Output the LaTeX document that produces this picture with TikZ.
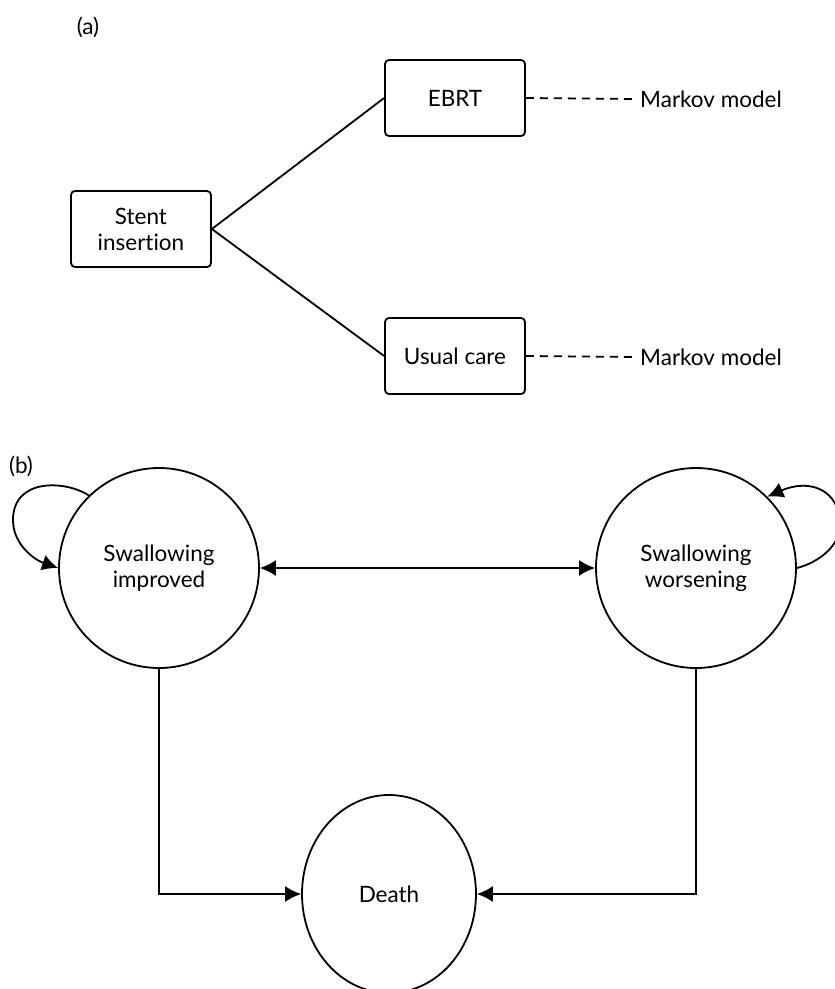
\documentclass[tikz,border=0pt]{standalone}
\usepackage{fontspec}
\setmainfont[Ligatures=NoCommon]{Lato}
\usetikzlibrary{arrows.meta,shapes.geometric}

\begin{document}
\begin{tikzpicture}[x=1pt,y=-1pt,line width=1.8pt]
  \tikzset{every node/.style={font=\fontsize{22.5}{26}\selectfont},
    treebox/.style={draw,rounded corners=4pt,align=center,minimum width=140pt,minimum height=76pt},
    state/.style={draw,circle,align=center,minimum size=200pt,inner sep=0pt},
    arr/.style={-{Latex[length=16pt,width=16pt]}},
    twoarr/.style={{Latex[length=16pt,width=16pt]}-{Latex[length=16pt,width=16pt]}},
    link/.style={dash pattern=on 8pt off 6pt}}
  \useasboundingbox (0,0) rectangle (835,989);
  % (a) decision tree
  \node (lbla) at (88,27) {(a)};
  \node[treebox] (stent) at (141,229) {Stent\\insertion};
  \node[treebox] (ebrt) at (455,98) {EBRT};
  \node[treebox] (usual) at (455,356) {Usual care};
  \node[anchor=west] (mma) at (636,99) {Markov model};
  \node[anchor=west] (mmb) at (636,357) {Markov model};
  \draw (stent.east) -- (ebrt.west);
  \draw (stent.east) -- (usual.west);
  \draw[link] (ebrt.east) -- (mma.west);
  \draw[link] (usual.east) -- (mmb.west);
  % (b) Markov model
  \node (lblb) at (21,466) {(b)};
  \node[state] (impr) at (159,568) {Swallowing\\improved};
  \node[state] (wors) at (696,568) {Swallowing\\worsening};
  \node[state,ellipse,minimum width=174pt,minimum height=198pt] (death) at (389,894) {Death};
  \draw[twoarr] (impr) -- (wors);
  \draw[arr] (impr.134) .. controls (65,480) and (13,478) .. (13,520)
    .. controls (13,545) and (35,560) .. (impr.west);
  \draw[arr] (wors.east) .. controls (820,562) and (840,545) .. (840,525)
    .. controls (840,490) and (810,478) .. (wors.45);
  \draw[arr] (impr.south) |- (death.west);
  \draw[arr] (wors.south) |- (death.east);
\end{tikzpicture}
\end{document}
